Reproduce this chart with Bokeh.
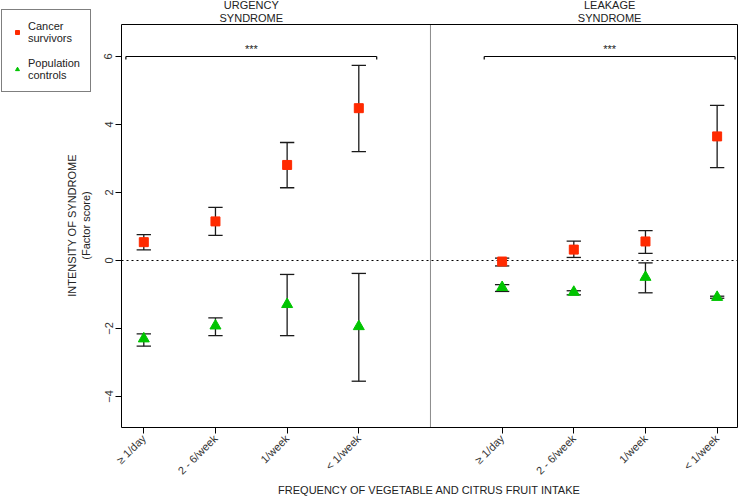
from math import pi
from bokeh.plotting import figure
from bokeh.models import Range1d, FixedTicker, Legend, LegendItem, LinearAxis
from bokeh.core.properties import value
from bokeh.embed import file_html
from bokeh.resources import INLINE

# ---------------- data ----------------
categories = ["≥ 1/day", "2 - 6/week", "1/week", "< 1/week"]
urgency_x = [1, 2, 3, 4]
leakage_x = [6, 7, 8, 9]
panel_title_x = [2.5, 7.5]
panel_titles = ["URGENCY\nSYNDROME", "LEAKAGE\nSYNDROME"]
series_names = ["Cancer\nsurvivors", "Population\ncontrols"]
x_title = "FREQUENCY OF VEGETABLE AND CITRUS FRUIT INTAKE"
y_title = "INTENSITY OF SYNDROME\n(Factor score)"

cancer_urgency_mean = [0.54, 1.15, 2.81, 4.48]
cancer_urgency_low = [0.31, 0.74, 2.14, 3.20]
cancer_urgency_high = [0.76, 1.56, 3.47, 5.74]
control_urgency_mean = [-2.30, -1.92, -1.29, -1.94]
control_urgency_low = [-2.52, -2.21, -2.21, -3.55]
control_urgency_high = [-2.16, -1.69, -0.41, -0.38]

cancer_leakage_mean = [-0.03, 0.32, 0.56, 3.65]
cancer_leakage_low = [-0.16, 0.09, 0.21, 2.73]
cancer_leakage_high = [0.07, 0.57, 0.88, 4.56]
control_leakage_mean = [-0.79, -0.93, -0.49, -1.08]
control_leakage_low = [-0.91, -1.01, -0.95, -1.11]
control_leakage_high = [-0.71, -0.89, -0.07, -1.05]

bracket_x0 = [0.75, 5.75]
bracket_x1 = [4.25, 9.25]
bracket_y = [6, 6]
bracket_text = ["***", "***"]

y_ticks = [-4, -2, 0, 2, 4, 6]

# ---------------- layout / styling ----------------
FONT = "Liberation Sans"
RED = "#FF2A00"
GREEN = "#00C400"
BAR = "#1a1a1a"
TXT = "#222222"
CAP = 0.1
W, H = 740, 501
# the plotting frame covers the whole canvas; the visible box is drawn by axes
X_RANGE = (-0.9995, 9.326)
Y_RANGE = (-7.088, 7.647)
BOX_X = (0.689, 9.283)
BOX_Y = (-4.912, 6.941)
XTITLE_POS = (4.986, -6.559)
YTITLE_POS = (0.284, 1.03)

xs = urgency_x + leakage_x
cancer_mean = cancer_urgency_mean + cancer_leakage_mean
cancer_low = cancer_urgency_low + cancer_leakage_low
cancer_high = cancer_urgency_high + cancer_leakage_high
control_mean = control_urgency_mean + control_leakage_mean
control_low = control_urgency_low + control_leakage_low
control_high = control_urgency_high + control_leakage_high

p = figure(width=W, height=H, output_backend="svg", toolbar_location=None, title=None,
           x_range=Range1d(*X_RANGE), y_range=Range1d(*Y_RANGE),
           x_axis_location=None, y_axis_location=None,
           min_border=0, min_border_left=0, min_border_right=0, min_border_top=0, min_border_bottom=0)
p.grid.visible = False
p.outline_line_color = None
p.background_fill_color = "white"
p.border_fill_color = "white"

# zero line and divider
p.segment(x0=[BOX_X[0]], y0=[0], x1=[BOX_X[1]], y1=[0], line_color="black", line_width=1, line_dash="2 3")
p.segment(x0=[5], y0=[BOX_Y[0]], x1=[5], y1=[BOX_Y[1]], line_color="#8a8a8a", line_width=1)

# significance brackets
for x0, x1, y, t in zip(bracket_x0, bracket_x1, bracket_y, bracket_text):
    p.segment(x0=[x0], y0=[y], x1=[x1], y1=[y], line_color="black", line_width=1.2)
    p.segment(x0=[x0, x1], y0=[y, y], x1=[x0, x1], y1=[y - 0.09, y - 0.09], line_color="black", line_width=1.2)
    p.text(x=[(x0 + x1) / 2], y=[y + 0.03], text=[t], text_align="center",
           text_baseline="bottom", text_font=value(FONT), text_font_size="11px", text_color=TXT)

# error bars
for m_low, m_high in ((cancer_low, cancer_high), (control_low, control_high)):
    p.segment(x0=xs, y0=m_low, x1=xs, y1=m_high, line_color=BAR, line_width=1.3)
    p.segment(x0=[x - CAP for x in xs], y0=m_low, x1=[x + CAP for x in xs], y1=m_low, line_color=BAR, line_width=1.3)
    p.segment(x0=[x - CAP for x in xs], y0=m_high, x1=[x + CAP for x in xs], y1=m_high, line_color=BAR, line_width=1.3)

r_red = p.scatter(x=xs, y=cancer_mean, marker="square", size=9, fill_color=RED, line_color=RED)
r_green = p.scatter(x=xs, y=control_mean, marker="triangle", size=11, fill_color=GREEN, line_color=GREEN)


def style(ax, size="11px", color="#333333"):
    ax.minor_tick_line_color = None
    ax.major_tick_in = 0
    ax.major_label_text_font = FONT
    ax.major_label_text_font_size = size
    ax.major_label_text_color = color
    return ax


# bottom axis (bottom edge of the box)
xax = style(LinearAxis(fixed_location=BOX_Y[0], bounds=BOX_X, ticker=FixedTicker(ticks=xs),
                       major_label_overrides={x: categories[i % 4] for i, x in enumerate(xs)},
                       major_label_orientation=pi / 4, major_tick_out=6, major_label_standoff=3,
                       axis_line_color="black", major_tick_line_color="black"))
p.add_layout(xax, "below")

# left axis (left edge of the box)
yax = style(LinearAxis(fixed_location=BOX_X[0], bounds=BOX_Y, ticker=FixedTicker(ticks=y_ticks),
                       major_label_orientation="vertical", major_tick_out=6, major_label_standoff=3,
                       axis_line_color="black", major_tick_line_color="black"))
p.add_layout(yax, "left")

# top edge of the box with the panel titles
tax = style(LinearAxis(fixed_location=BOX_Y[1], bounds=BOX_X, ticker=FixedTicker(ticks=panel_title_x),
                       major_label_overrides={x: t for x, t in zip(panel_title_x, panel_titles)},
                       major_tick_out=0, major_label_standoff=1,
                       axis_line_color="black", major_tick_line_color=None), color=TXT)
tax.major_label_text_line_height = 1.05
p.add_layout(tax, "above")

# right edge of the box
rax = LinearAxis(fixed_location=BOX_X[1], bounds=BOX_Y, ticker=FixedTicker(ticks=[]),
                 axis_line_color="black", major_tick_line_color=None, minor_tick_line_color=None)
p.add_layout(rax, "right")

# axis titles
xt = style(LinearAxis(fixed_location=XTITLE_POS[1], ticker=FixedTicker(ticks=[XTITLE_POS[0]]),
                      major_label_overrides={XTITLE_POS[0]: x_title}, major_tick_out=0,
                      major_label_standoff=0, axis_line_color=None, major_tick_line_color=None), color=TXT)
p.add_layout(xt, "below")
yt = style(LinearAxis(fixed_location=YTITLE_POS[0], ticker=FixedTicker(ticks=[YTITLE_POS[1]]),
                      major_label_overrides={YTITLE_POS[1]: y_title}, major_label_orientation="vertical",
                      major_tick_out=0, major_label_standoff=0, axis_line_color=None,
                      major_tick_line_color=None), color=TXT)
p.add_layout(yt, "left")

legend = Legend(items=[LegendItem(label=series_names[0], renderers=[r_red]),
                       LegendItem(label=series_names[1], renderers=[r_green])],
                location=(1, H - 92), orientation="vertical",
                label_text_font=FONT, label_text_font_size="11px", label_text_color=TXT,
                label_text_line_height=1.27,
                glyph_width=10, glyph_height=14, padding=10, spacing=13, margin=0,
                border_line_color="black", border_line_width=1, background_fill_color="white",
                background_fill_alpha=1.0, label_standoff=6)
p.add_layout(legend, "center")

open("out.html", "w").write(file_html(p, INLINE))
